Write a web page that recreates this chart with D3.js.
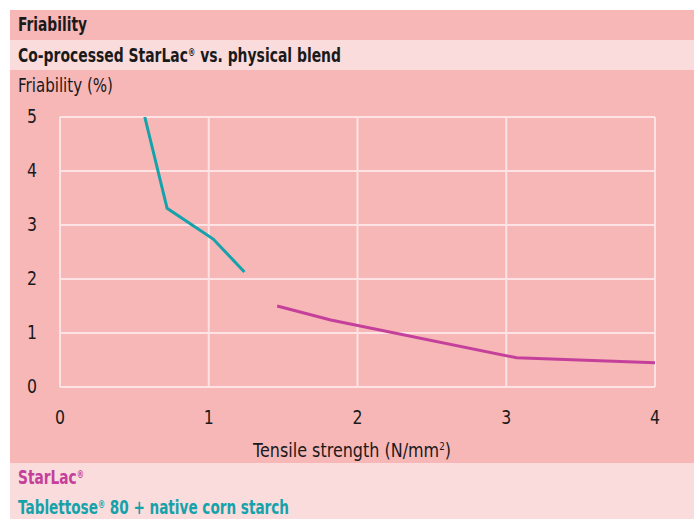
<!DOCTYPE html>
<html>
<head>
<meta charset="utf-8">
<script src="https://cdn.jsdelivr.net/npm/d3@7"></script>
<style>
  html, body { margin: 0; padding: 0; background: #fff; }
  svg { display: block; }
  text { font-family: "DejaVu Sans", sans-serif; fill: #1a1a1a; }
</style>
</head>
<body>
<div id="chart"></div>
<script>
// chart data
const xTicks = [0, 1, 2, 3, 4];
const yTicks = [0, 1, 2, 3, 4, 5];
const starLacX = [1.46, 1.82, 3.07, 4.0];
const starLacY = [1.5, 1.24, 0.54, 0.45];
const blendX = [0.57, 0.72, 1.03, 1.24];
const blendY = [5.0, 3.31, 2.74, 2.13];

const width = 697, height = 519;
const dark = '#f7b7b7', light = '#fbdcdc', grid = '#fde3e3';
const teal = '#14a2ab', magenta = '#c4409b';

const svg = d3.select('#chart').append('svg')
  .attr('width', width)
  .attr('height', height);

// squeeze text to the narrow look of the original font
function narrow(sel, len) {
  return sel.attr('textLength', len).attr('lengthAdjust', 'spacingAndGlyphs');
}

// background bands
svg.append('rect').attr('x', 10).attr('y', 10).attr('width', 684).attr('height', 30).style('fill', dark);
svg.append('rect').attr('x', 10).attr('y', 40).attr('width', 684).attr('height', 30).style('fill', light);
svg.append('rect').attr('x', 10).attr('y', 70).attr('width', 684).attr('height', 393).style('fill', dark);
svg.append('rect').attr('x', 10).attr('y', 463).attr('width', 684).attr('height', 56).style('fill', light);

// titles
narrow(svg.append('text').attr('x', 18).attr('y', 31).text('Friability')
  .style('font-size', '19px').style('font-weight', 'bold'), 69);
const sub = svg.append('text').attr('x', 18).attr('y', 62)
  .style('font-size', '19px').style('font-weight', 'bold');
sub.append('tspan').text('Co-processed StarLac');
sub.append('tspan').text('®').attr('dy', -6).style('font-size', '10px');
sub.append('tspan').text(' vs. physical blend').attr('dy', 6);
narrow(sub, 323);

narrow(svg.append('text').attr('x', 18).attr('y', 92).text('Friability (%)')
  .style('font-size', '20px'), 95);

// scales
const x = d3.scaleLinear().domain([0, 4]).range([60, 655]);
const y = d3.scaleLinear().domain([0, 5]).range([387, 117]);

// grid
const g = svg.append('g');
g.selectAll('.vgrid').data(xTicks).enter().append('line')
  .attr('x1', d => x(d)).attr('x2', d => x(d))
  .attr('y1', y(0)).attr('y2', y(5))
  .style('stroke', grid).style('stroke-width', 2);
g.selectAll('.hgrid').data(yTicks).enter().append('line')
  .attr('x1', x(0)).attr('x2', x(4))
  .attr('y1', d => y(d)).attr('y2', d => y(d))
  .style('stroke', grid).style('stroke-width', 2);

// tick labels
svg.selectAll('.ylab').data(yTicks).enter().append('text')
  .attr('x', 27).attr('y', d => y(d) + 6)
  .style('font-size', '19px')
  .attr('textLength', 10).attr('lengthAdjust', 'spacingAndGlyphs')
  .text(d => d);
svg.selectAll('.xlab').data(xTicks).enter().append('text')
  .attr('x', d => x(d) - 5).attr('y', 424)
  .style('font-size', '19px')
  .attr('textLength', 10).attr('lengthAdjust', 'spacingAndGlyphs')
  .text(d => d);

const xt = svg.append('text').attr('x', 253).attr('y', 457)
  .style('font-size', '20px');
xt.append('tspan').text('Tensile strength (N/mm');
xt.append('tspan').text('2').attr('dy', -7).style('font-size', '11px');
xt.append('tspan').text(')').attr('dy', 7);
narrow(xt, 198);

// lines
const line = d3.line().x(d => x(d[0])).y(d => y(d[1]));
svg.append('path')
  .datum(blendX.map((v, i) => [v, blendY[i]]))
  .attr('d', line)
  .style('fill', 'none').style('stroke', teal).style('stroke-width', 3);
svg.append('path')
  .datum(starLacX.map((v, i) => [v, starLacY[i]]))
  .attr('d', line)
  .style('fill', 'none').style('stroke', magenta).style('stroke-width', 3);

// legend
const l1 = svg.append('text').attr('x', 18).attr('y', 484)
  .style('font-size', '19px').style('font-weight', 'bold');
l1.append('tspan').text('StarLac').style('fill', magenta);
l1.append('tspan').text('®').attr('dy', -6).style('font-size', '10px').style('fill', magenta);
narrow(l1, 66);

const l2 = svg.append('text').attr('x', 18).attr('y', 514)
  .style('font-size', '19px').style('font-weight', 'bold');
l2.append('tspan').text('Tablettose').style('fill', teal);
l2.append('tspan').text('®').attr('dy', -6).style('font-size', '10px').style('fill', teal);
l2.append('tspan').text(' 80 + native corn starch').attr('dy', 6).style('fill', teal);
narrow(l2, 271);
</script>
</body>
</html>
